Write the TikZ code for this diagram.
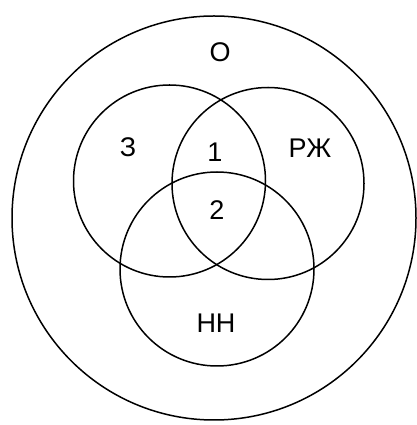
\documentclass[tikz,border=0pt]{standalone}
\usepackage{fontspec}
\setmainfont{Liberation Sans}
\begin{document}
\begin{tikzpicture}[x=1pt,y=1pt,
  ring/.style={circle, draw=black, line width=1.5pt, inner sep=0pt},
  lbl/.style={font=\fontsize{27}{30}\selectfont, inner sep=0pt}]
\useasboundingbox (0,0) rectangle (416,425);
\fill[white] (0,0) rectangle (416,425);
\node[ring, minimum size=404pt] (outer) at (214,207) {};
\node[ring, minimum size=192pt] (z) at (169.5,244) {};
\node[ring, minimum size=192pt] (rz) at (268,241.5) {};
\node[ring, minimum size=194pt] (nn) at (217,156) {};
\node[lbl] (lo) at (220,373) {О};
\node[lbl] (lz) at (128,278) {З};
\node[lbl] (l1) at (215,273) {1};
\node[lbl] (lrz) at (310,277) {РЖ};
\node[lbl] (l2) at (217,215) {2};
\node[lbl] (lnn) at (216,102) {НН};
\end{tikzpicture}
\end{document}
